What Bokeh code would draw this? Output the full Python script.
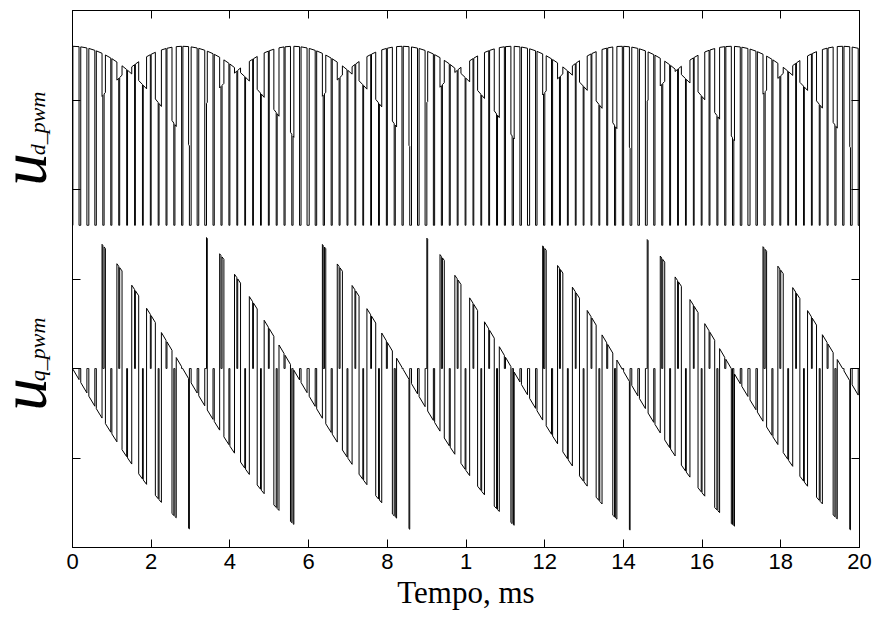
import math
import numpy as np
from bokeh.plotting import figure
from bokeh.layouts import row
from bokeh.models import Range1d, LinearAxis, FixedTicker, Label
from bokeh.embed import file_html
from bokeh.resources import INLINE

# ---------------- readings ----------------
x_ticks = [0, 2, 4, 6, 8, 10, 12, 14, 16, 18, 20]
x_tick_labels = ["0", "2", "4", "6", "8", "1", "12", "14", "16", "18", "20"]
y_ticks = [1, 2, 3, 4, 5]

# instants (ms) of the 60-degree sector edges, read from the u_q sawtooth
# zero crossings and the tall spikes on either side of them
sector_edges_ms = [0.0, 2.80, 5.60, 8.39, 11.17, 13.96, 16.74, 19.57, 22.36]
sector_edges_deg = [0, 60, 120, 180, 240, 300, 360, 420, 480]
pwm_period_ms = 0.40        # spacing of the u_q pulses
pwm_first_edge_ms = -0.212  # carrier edge (pulse centres at 0.79, 1.19, ...)
sample_delay_ms = 0.39      # vector choice lags the angle by about one period
min_pulse_ms = 0.012        # narrower pulses do not show in the trace
mod_index = 0.78            # from pulse / notch widths
d_zero_level = 3.6          # plot units: bottom of the u_d notches
q_zero_level = 2.0          # plot units: u_q zero line
vector_amp = 2.0            # plot units: top of the u_d arcs above its zero

# y-axis titles: (letter, subscript, page-y centre of letter, page-y centre of subscript)
ylabels = [("u", "d_pwm", 159, 113), ("u", "q_pwm", 384, 339)]


def theta(t):
    return float(np.interp(t, sector_edges_ms, sector_edges_deg))


# ---------------- switching pattern from those readings ----------------
d_t, d_v, q_t, q_v = [], [], [], []
T = pwm_period_ms
H = T / 2
s60 = math.sin(math.radians(60))
h = 0
while True:
    s = pwm_first_edge_ms + h * H
    if s > 20.5:
        break
    th_s = theta(s + H / 2 - sample_delay_ms)
    n = int(th_s // 60)
    phi = th_s - 60 * n
    ta = mod_index * T * math.sin(math.radians(60 - phi)) / s60
    tb = mod_index * T * math.sin(math.radians(phi)) / s60
    t0 = T - ta - tb
    A = (60 * n, ta / 2)
    B = (60 * (n + 1), tb / 2)
    near0, near7 = (A, B) if n % 2 == 0 else (B, A)
    if h % 2 == 0:
        segs = [(None, t0 / 4), near0, near7, (None, t0 / 4)]
    else:
        segs = [(None, t0 / 4), near7, near0, (None, t0 / 4)]
    cur = s
    for vec, du in segs:
        if vec is not None and du < min_pulse_ms:
            vec = None
        for tt in (cur, cur + du):
            if vec is None:
                dv, qv = 0.0, 0.0
            else:
                ang = math.radians(theta(tt) - vec)
                dv, qv = math.cos(ang), -math.sin(ang)
            d_t.append(tt)
            d_v.append(d_zero_level + vector_amp * dv)
            q_t.append(tt)
            q_v.append(q_zero_level + vector_amp * qv)
        cur += du
    h += 1

# ---------------- main figure ----------------
LW = 66
p = figure(frame_width=787, frame_height=537,
           x_range=Range1d(0, 20), y_range=Range1d(0, 6),
           output_backend="svg", toolbar_location=None,
           min_border_left=72 - LW, min_border_right=18,
           min_border_top=10, min_border_bottom=70)
p.xgrid.visible = False
p.ygrid.visible = False
p.outline_line_color = "black"
p.outline_line_width = 1
p.background_fill_color = "white"
p.border_fill_color = "white"

p.line(d_t, d_v, line_color="black", line_width=1)
p.line(q_t, q_v, line_color="black", line_width=1)

xa = p.xaxis[0]
xa.ticker = FixedTicker(ticks=x_ticks)
xa.major_label_overrides = {t: s for t, s in zip(x_ticks, x_tick_labels)}
xa.major_tick_in = 8
xa.major_tick_out = 0
xa.minor_tick_line_color = None
xa.major_label_text_font = "Liberation Sans"
xa.major_label_text_font_size = "22px"
xa.major_label_text_color = "black"
xa.major_label_standoff = 6
xa.axis_line_color = "black"
xa.major_tick_line_color = "black"
xa.axis_label = "Tempo, ms"
xa.axis_label_text_font = "Liberation Serif"
xa.axis_label_text_font_style = "normal"
xa.axis_label_text_font_size = "31px"
xa.axis_label_text_color = "black"
xa.axis_label_standoff = 3

ya = p.yaxis[0]
ya.ticker = FixedTicker(ticks=y_ticks)
ya.major_tick_in = 8
ya.major_tick_out = 0
ya.minor_tick_line_color = None
ya.major_label_text_font_size = "0px"
ya.major_label_standoff = 0
ya.axis_line_color = "black"
ya.major_tick_line_color = "black"

ra = LinearAxis(ticker=FixedTicker(ticks=y_ticks), major_tick_in=8, major_tick_out=0,
                minor_tick_line_color=None, major_label_text_font_size="0px",
                major_label_standoff=0, axis_line_color="black")
p.add_layout(ra, "right")
top_ax = LinearAxis(ticker=FixedTicker(ticks=x_ticks), major_tick_in=8, major_tick_out=0,
                    minor_tick_line_color=None, major_label_text_font_size="0px",
                    major_label_standoff=0, axis_line_color="black")
p.add_layout(top_ax, "above")

# ---------------- narrow panel holding the y titles ----------------
lab = figure(frame_width=LW, frame_height=617,
             x_range=Range1d(0, LW), y_range=Range1d(0, 617),
             output_backend="svg", toolbar_location=None,
             min_border_left=0, min_border_right=0,
             min_border_top=0, min_border_bottom=0)
lab.axis.visible = False
lab.xgrid.visible = False
lab.ygrid.visible = False
lab.outline_line_color = None
lab.background_fill_color = "white"
lab.border_fill_color = "white"
for main, sub, y_main, y_sub in ylabels:
    lab.add_layout(Label(x=23, y=617 - y_main, text=main, angle=math.pi / 2,
                         text_font="Liberation Serif", text_font_style="italic",
                         text_font_size="65px", text_baseline="middle",
                         text_align="center", text_color="black"))
    lab.add_layout(Label(x=37, y=617 - y_sub, text=sub, angle=math.pi / 2,
                         text_font="Liberation Serif", text_font_style="italic",
                         text_font_size="22px", text_baseline="middle",
                         text_align="center", text_color="black"))

layout = row(lab, p, spacing=0)
open("out.html", "w").write(file_html(layout, INLINE))
